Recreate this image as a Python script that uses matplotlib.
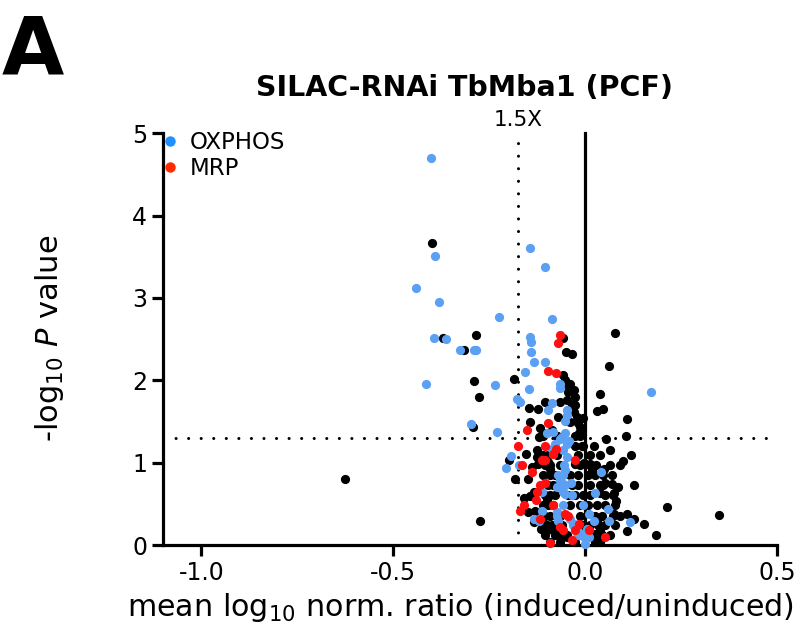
import matplotlib
matplotlib.use("Agg")
import matplotlib.pyplot as plt
from matplotlib.lines import Line2D

plt.rcParams['font.family'] = ['DejaVu Sans']

# OXPHOS proteins (blue)
ox_x = [-0.402, -0.391, -0.442, -0.381, -0.224, -0.145, -0.104, -0.086, -0.143, -0.141,
        -0.395, -0.364, -0.141, -0.326, -0.291, -0.284, -0.135, -0.106, -0.156, -0.234,
        -0.146, -0.065, -0.067, 0.172, -0.416, -0.178, -0.169, -0.087, -0.096, -0.048,
        -0.049, -0.052, -0.298, -0.230, -0.083, -0.100, -0.065, -0.052, -0.043, -0.078,
        -0.087, -0.083, -0.061, -0.048, -0.057, -0.048, -0.193, -0.206, -0.174, -0.055,
        -0.052, -0.057, 0.042, -0.065, -0.061, -0.052, -0.074, -0.057, -0.113, 0.026,
        -0.113, -0.074, -0.070, -0.135, -0.120, 0.059, 0.061, 0.116, 0.009, 0.022,
        0.004, 0.009, 0.000, -0.039, -0.030, -0.022, -0.009, -0.037, -0.026, -0.013,
        -0.004, -0.070, -0.034, -0.005, -0.057, -0.073, -0.031, -0.052, -0.018]
ox_y = [4.70, 3.51, 3.12, 2.95, 2.77, 3.61, 3.38, 2.75, 2.53, 2.47,
        2.51, 2.50, 2.35, 2.37, 2.37, 2.37, 2.22, 2.22, 2.10, 1.94,
        1.89, 1.96, 1.91, 1.86, 1.96, 1.78, 1.74, 1.73, 1.64, 1.64,
        1.58, 1.51, 1.47, 1.38, 1.38, 1.36, 1.29, 1.36, 1.27, 1.23,
        1.17, 1.11, 1.31, 1.23, 1.15, 1.07, 1.08, 0.94, 0.97, 0.97,
        0.91, 0.85, 0.89, 0.79, 0.75, 0.73, 0.71, 0.65, 0.65, 0.63,
        0.42, 0.40, 0.30, 0.32, 0.30, 0.44, 0.29, 0.28, 0.38, 0.29,
        0.20, 0.10, 0.01, 0.32, 0.26, 0.18, 0.14, 0.76, 0.18, 0.14,
        0.10, 0.85, 0.61, 0.49, 0.49, 0.36, 0.24, 0.62, 0.12]

# Mitoribosomal proteins (red)
mrp_x = [-0.065, -0.072, -0.097, -0.076, -0.152, -0.096, -0.176, -0.083, -0.076, -0.165,
         -0.113, -0.104, -0.026, -0.139, -0.117, -0.104, -0.128, -0.161, -0.169, -0.117,
         -0.065, -0.057, -0.036, 0.052, 0.009, -0.017, -0.026, -0.052, -0.125, -0.104,
         -0.083, -0.044, -0.091]
mrp_y = [2.55, 2.45, 2.12, 2.09, 1.40, 1.48, 1.21, 1.11, 1.17, 0.97,
         1.03, 1.03, 1.03, 0.89, 0.73, 0.75, 0.55, 0.49, 0.42, 0.32,
         0.22, 0.18, 0.07, 0.10, 0.18, 0.26, 0.18, 0.38, 0.65, 1.21,
         0.49, 0.36, 0.03]

# Other proteins (black)
oth_x = [-0.399, -0.372, -0.317, -0.286, -0.291, -0.278, -0.292, -0.627, -0.275, -0.185,
         -0.058, -0.050, -0.036, 0.076, 0.061, 0.039, 0.046, 0.030, 0.109, 0.054,
         0.107, 0.063, 0.118, 0.098, 0.022, 0.013, 0.017, 0.049, 0.052, 0.070,
         0.084, 0.074, 0.128, 0.081, 0.074, 0.109, 0.214, 0.127, 0.154, 0.109,
         0.183, 0.348, 0.039, 0.030, 0.039, 0.043, -0.146, -0.122, -0.104, -0.065,
         -0.049, -0.057, -0.052, -0.047, -0.044, -0.039, -0.030, -0.026, -0.026, -0.022,
         -0.013, -0.017, -0.145, -0.117, -0.109, -0.087, -0.074, -0.072, -0.120, -0.155,
         -0.125, -0.122, -0.096, -0.091, -0.182, -0.200, -0.135, -0.100, -0.096, -0.161,
         -0.130, -0.100, -0.091, -0.078, -0.061, -0.048, -0.100, 0.026, 0.047,
         # dense cluster
         -0.109, -0.073, -0.026, -0.013, -0.026, -0.005,
         -0.109, -0.096, -0.073, -0.018, 0.013, 0.039,
         -0.104, -0.091, -0.065, -0.026, -0.013, 0.013, 0.029, 0.065, 0.091,
         -0.109, -0.091, -0.078, -0.039, -0.018, 0.008, 0.026, 0.047, 0.070,
         -0.096, -0.083, -0.034, -0.018, 0.013, 0.039,
         -0.104, -0.091, -0.078, -0.044, -0.026, -0.005, 0.013, 0.052, 0.073,
         -0.109, -0.083, -0.039, -0.013, 0.008, 0.031, 0.052, 0.078,
         -0.104, -0.091, -0.065, -0.013, 0.026, 0.044, 0.073, 0.091,
         -0.102, -0.086, -0.060, -0.005, 0.013, 0.034, 0.052, 0.078,
         -0.104, -0.078, -0.060, -0.047, -0.018, 0.013, 0.034, 0.044, 0.065,
         -0.091, -0.065, -0.026, 0.026, 0.039,
         -0.150, -0.143, -0.138, -0.125, -0.150, -0.115, -0.135,
         -0.035, -0.030, -0.040, -0.020, -0.010, -0.005, -0.008, -0.003]
oth_y = [3.67, 2.51, 2.37, 2.55, 1.99, 1.80, 1.44, 0.81, 0.29, 2.02,
         2.51, 2.35, 2.32, 2.57, 2.18, 1.84, 1.65, 1.63, 1.53, 1.29,
         1.33, 1.16, 1.10, 1.02, 1.21, 0.99, 0.93, 0.93, 0.75, 0.74,
         0.71, 0.63, 0.73, 0.54, 0.38, 0.38, 0.46, 0.32, 0.26, 0.17,
         0.13, 0.37, 0.63, 0.30, 0.18, 0.12, 1.67, 1.65, 1.74, 1.74,
         1.76, 2.06, 2.00, 1.94, 1.86, 1.96, 1.88, 1.80, 1.70, 1.56,
         1.44, 1.36, 1.50, 1.42, 1.36, 1.40, 1.33, 1.56, 1.31, 1.11,
         1.07, 0.99, 1.01, 0.93, 0.81, 1.03, 0.65, 0.55, 0.49, 0.57,
         0.42, 0.24, 0.20, 0.16, 0.10, 0.10, 0.18, 0.14, 0.73,
         1.33, 1.33, 1.33, 1.33, 1.21, 1.21,
         1.09, 1.09, 1.09, 1.09, 1.09, 1.09,
         0.97, 0.97, 0.97, 0.98, 0.97, 0.97, 0.97, 0.97, 0.97,
         0.85, 0.85, 0.85, 0.85, 0.85, 0.85, 0.85, 0.85, 0.85,
         0.73, 0.73, 0.73, 0.73, 0.73, 0.73,
         0.61, 0.61, 0.61, 0.61, 0.61, 0.61, 0.61, 0.61, 0.61,
         0.49, 0.49, 0.49, 0.49, 0.49, 0.49, 0.49, 0.49,
         0.36, 0.36, 0.36, 0.36, 0.36, 0.36, 0.36, 0.36,
         0.24, 0.24, 0.24, 0.24, 0.24, 0.24, 0.24, 0.24,
         0.12, 0.12, 0.12, 0.12, 0.12, 0.12, 0.12, 0.12, 0.12,
         0.04, 0.04, 0.04, 0.04, 0.04,
         0.80, 0.60, 0.95, 1.15, 0.40, 0.20, 0.28,
         1.70, 1.62, 1.50, 1.48, 1.40, 1.55, 1.20, 1.00]

p_threshold = 1.301      # -log10(0.05)
fc_threshold = -0.176    # log10(1/1.5)

BLUE = '#5BA0F2'
RED = '#FF1010'

fig = plt.figure(figsize=(8.03, 6.40), dpi=100)
ax = fig.add_axes([0.203, 0.148, 0.765, 0.644])

ax.scatter(oth_x, oth_y, s=44, c='black', linewidths=0, zorder=3, clip_on=False)
ax.scatter(ox_x, ox_y, s=44, c=BLUE, linewidths=0, zorder=4, clip_on=False)
ax.scatter(mrp_x, mrp_y, s=44, c=RED, linewidths=0, zorder=5, clip_on=False)

ax.set_xlim(-1.1, 0.5)
ax.set_ylim(0, 5)

ax.axhline(p_threshold, color='black', lw=2.2, linestyle=(0, (0.01, 4.1)),
           dash_capstyle='round', zorder=2)
ax.plot([fc_threshold, fc_threshold], [0, 5], color='black', lw=2.2,
        linestyle=(0, (0.01, 4.1)), dash_capstyle='round', zorder=2, clip_on=False)
ax.plot([0, 0], [0, 5], color='black', lw=2.3, zorder=2, clip_on=False)
ax.text(fc_threshold, 5.04, '1.5X', ha='center', va='bottom', fontsize=15.5)

for s in ['top', 'right']:
    ax.spines[s].set_visible(False)
for s in ['left', 'bottom']:
    ax.spines[s].set_linewidth(2.3)

ax.set_xticks([-1.0, -0.5, 0.0, 0.5])
ax.set_xticklabels(['-1.0', '-0.5', '0.0', '0.5'])
ax.set_yticks([0, 1, 2, 3, 4, 5])
ax.tick_params(axis='both', width=2.3, length=8, labelsize=17, direction='out')

fig.text(0.574, 0.050, r'mean log$_{10}$ norm. ratio (induced/uninduced)',
         ha='center', va='center', fontsize=21.7)
fig.text(0.062, 0.472, r'-log$_{10}$ $\mathit{P}$ value', ha='center', va='center',
         rotation=90, fontsize=22)

handles = [Line2D([], [], marker='o', color='none', markerfacecolor='#1E90FF',
                  markeredgewidth=0, markersize=7.5, label='OXPHOS'),
           Line2D([], [], marker='o', color='none', markerfacecolor='#FF2A00',
                  markeredgewidth=0, markersize=7.5, label='MRP')]
ax.legend(handles=handles, loc='upper left', bbox_to_anchor=(-0.0065, 1.004),
          frameon=False, fontsize=16.5, handletextpad=0.35, labelspacing=0.1,
          handlelength=1.0, borderaxespad=0.0, borderpad=0.0)

fig.text(0.578, 0.862, 'SILAC-RNAi TbMba1 (PCF)', ha='center', va='center',
         fontsize=20.5, fontweight='bold')
fig.text(0.002, 0.883, 'A', ha='left', va='baseline', fontsize=58, fontweight='bold')

fig.savefig('out.png', dpi=100)
